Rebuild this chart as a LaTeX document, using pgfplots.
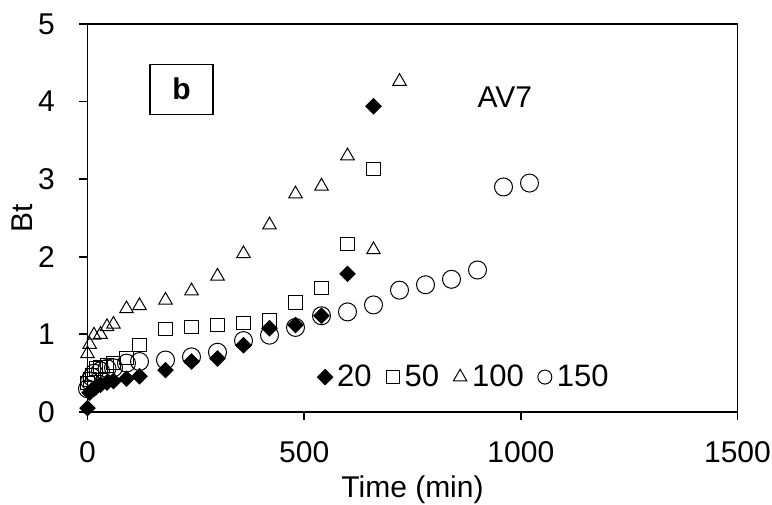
\documentclass[border=0pt]{standalone}
\usepackage{fontspec}
\setmainfont{Liberation Sans}
\usepackage{pgfplots}
\pgfplotsset{compat=1.18}
\pgfplotsset{
  markimg/.style={legend image code/.code={\path[draw=none,fill=none] (0bp,-1bp) rectangle (8bp,1bp); \draw[##1] plot coordinates {(4bp,0bp)};}},
  circimg/.style={legend image code/.code={\path[draw=none,fill=none] (0bp,-1bp) rectangle (8bp,1bp); \draw[##1, mark size=3.5bp] plot coordinates {(4bp,0bp)};}},
}
\begin{document}
\begin{tikzpicture}
\begin{axis}[
  scale only axis, width=325bp, height=194bp,
  xmin=0, xmax=1500, ymin=0, ymax=5,
  xtick={0,500,1000,1500}, ytick={0,1,2,3,4,5},
  axis line style={line width=0.9bp},
  tick style={line width=0.9bp, black},
  major tick length=4bp,
  tick align=outside,
  xtick pos=bottom, ytick pos=left,
  /pgf/number format/assume math mode=true,
  /pgf/number format/set thousands separator={},
  ticklabel style={font=\fontsize{15bp}{17bp}\selectfont},
  xticklabel style={anchor=center, yshift=-16bp},
  yticklabel style={anchor=center, xshift=-16.5bp},
  xlabel={Time (min)}, ylabel={Bt},
  label style={font=\fontsize{15bp}{17bp}\selectfont},
  xlabel style={at={(axis description cs:0.5,-0.201)}, anchor=center},
  ylabel style={at={(axis description cs:-0.1008,0.5)}, anchor=center},
  clip=false,
  legend columns=4,
  legend style={draw=none, fill=none, at={(axis cs:530,0.45)}, anchor=west,
    inner sep=0pt, outer sep=0pt,
    font=\fontsize{15.5bp}{17bp}\selectfont,
    nodes={inner sep=2bp},
    /tikz/every even column/.append style={column sep=4.5bp}},
  markimg,
]
\addplot[only marks, mark=square*, mark size=2.7bp, mark options={rotate=45, fill=black, draw=black, line width=0.5bp}] coordinates {
(0,0.05)(5,0.25)(10,0.28)(15,0.30)(20,0.32)(30,0.35)(45,0.38)(60,0.40)(90,0.43)(120,0.46)
(180,0.54)(240,0.65)(300,0.69)(360,0.86)(420,1.08)(480,1.12)(540,1.24)(600,1.78)(660,3.94)};
\addlegendentry{20}
\addplot[only marks, mark=square, mark size=3.3bp, mark options={draw=black, line width=0.5bp}] coordinates {
(0,0.37)(5,0.42)(10,0.48)(20,0.56)(30,0.58)(45,0.60)(60,0.63)(90,0.70)(120,0.86)
(180,1.07)(240,1.10)(300,1.12)(360,1.15)(420,1.19)(480,1.41)(540,1.60)(600,2.16)(660,3.13)};
\addlegendentry{50}
\addplot[only marks, mark=triangle, mark size=3.9bp, mark options={draw=black, line width=0.5bp}] coordinates {
(0,0.75)(5,0.87)(15,0.99)(30,1.00)(45,1.10)(60,1.13)(90,1.33)(120,1.37)
(180,1.44)(240,1.56)(300,1.75)(360,2.04)(420,2.41)(480,2.81)(540,2.91)(600,3.30)(660,2.09)(720,4.26)};
\addlegendentry{100}
\addplot[only marks, mark=o, mark size=4.5bp, mark options={draw=black, line width=0.5bp}, circimg] coordinates {
(0,0.30)(5,0.40)(10,0.45)(15,0.50)(30,0.53)(45,0.56)(60,0.57)(90,0.63)(120,0.65)
(180,0.67)(240,0.71)(300,0.77)(360,0.92)(420,0.99)(480,1.09)(540,1.24)(600,1.29)(660,1.38)
(720,1.57)(780,1.64)(840,1.71)(900,1.83)(960,2.90)(1020,2.95)};
\addlegendentry{150}
\node[draw=black, line width=0.6bp, minimum width=31.5bp, minimum height=25bp, inner sep=0pt,
  font=\bfseries\fontsize{15bp}{17bp}\selectfont] at (axis cs:217,4.16) {b};
\node[font=\fontsize{15bp}{17bp}\selectfont] at (axis cs:963,4.06) {AV7};
\end{axis}
\pgfresetboundingbox
\path[use as bounding box] ([shift={(-43.75bp,-46.5bp)}]current axis.south west) rectangle ([shift={(17.25bp,12bp)}]current axis.north east);
\end{tikzpicture}
\end{document}
